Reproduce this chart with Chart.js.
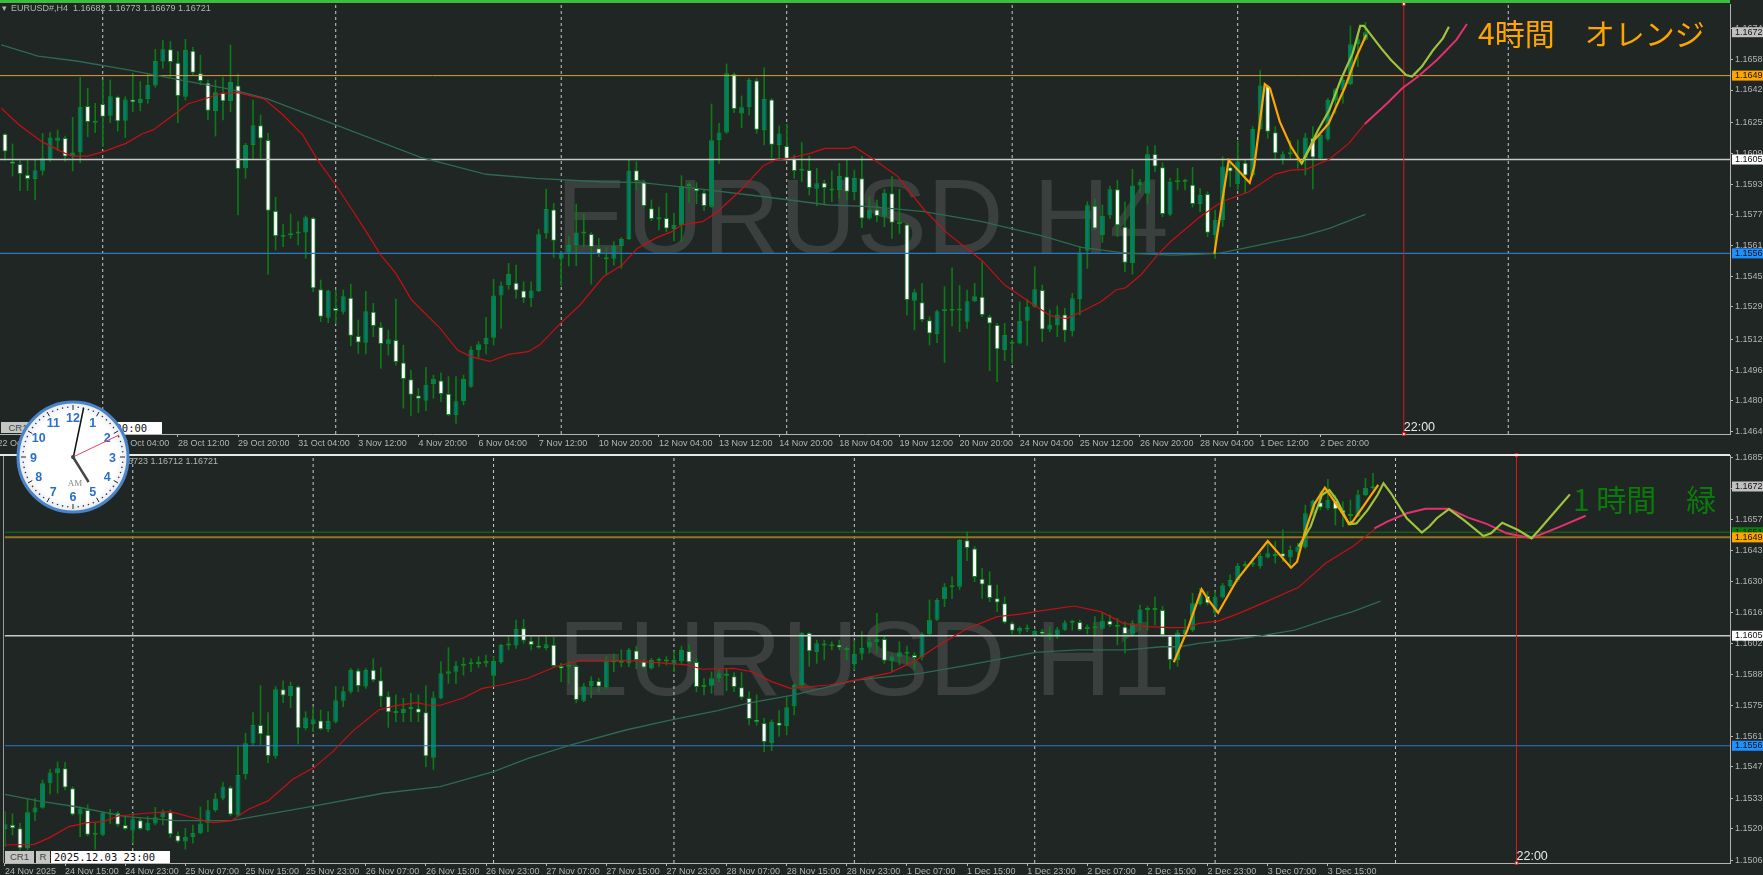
<!DOCTYPE html>
<html>
<head>
<meta charset="utf-8">
<script src="https://cdn.jsdelivr.net/npm/chart.js@4"></script>
<style>
html, body { margin:0; padding:0; background:#1f2624; overflow:hidden; }
#page { position:relative; width:1763px; height:875px; overflow:hidden; background:#1f2624; font-family:"Liberation Sans",sans-serif; }
canvas { position:absolute; left:0; }
#page div, #page svg { position:absolute; }
.head { color:#b4b4b4; font-size:9px; white-space:pre; }
.btn { background:#c4c6c4; color:#444; font-size:9.5px; text-align:center; line-height:11px; }
.box { background:#fff; color:#111; font:10.5px "DejaVu Sans Mono",monospace; line-height:12px; white-space:pre; }
.note { font-family:"Noto Sans CJK JP",sans-serif; font-size:30px; line-height:36px; white-space:pre; }
</style>
</head>
<body>
<div id="page">
  <canvas id="h4chart" width="1763" height="465" style="top:-10px"></canvas>
  <canvas id="h1chart" width="1763" height="430" style="top:445px"></canvas>
  <div style="left:0;top:0;width:1730px;height:3px;background:#3dbd3d"></div>
  <div style="left:0;top:454px;width:1730px;height:2px;background:#e8e8e8"></div>
  <div style="left:3px;top:456px;width:1px;height:407px;background:#9a9a9a"></div>
  <div class="head" style="left:2px;top:3px">▾</div>
  <div class="head" style="left:11px;top:3px">EURUSD#,H4  1.16682 1.16773 1.16679 1.16721</div>
  <div class="head" style="left:128px;top:456px">6723 1.16712 1.16721</div>
  <div class="btn" style="left:1px;top:422px;width:34px;height:11px">CR1</div>
  <div class="box" style="left:43px;top:422px;width:116px;height:12px;padding-left:3px">2025.12.03 20:00</div>
  <div class="btn" style="left:5px;top:851px;width:29px;height:12px">CR1</div>
  <div class="btn" style="left:36px;top:851px;width:14px;height:12px">R</div>
  <div class="box" style="left:51px;top:851px;width:116px;height:12px;padding-left:3px">2025.12.03 23:00</div>
  <div class="note" style="left:1478px;top:14px;color:#ffa500">4時間　オレンジ</div>
  <div class="note" style="left:1573px;top:480px;color:#0a7a0a">1 時間　緑</div>
  <svg id="clock" width="124" height="124" viewBox="-62 -62 124 124" style="left:11px;top:395px"></svg>
</div>
<script>
// ---- H4 panel ----
var h4Labels = ["22 Oct 12:00","23 Oct 20:00","27 Oct 04:00","28 Oct 12:00","29 Oct 20:00","31 Oct 04:00","3 Nov 12:00","4 Nov 20:00","6 Nov 04:00","7 Nov 12:00","10 Nov 20:00","12 Nov 04:00","13 Nov 12:00","14 Nov 20:00","18 Nov 04:00","19 Nov 12:00","20 Nov 20:00","24 Nov 04:00","25 Nov 12:00","26 Nov 20:00","28 Nov 04:00","1 Dec 12:00","2 Dec 20:00"];
var h4PriceTicks = [1.16740,1.16580,1.16420,1.16250,1.16090,1.15930,1.15770,1.15610,1.15450,1.15290,1.15120,1.14960,1.14800,1.14640];
var h4High = [1.16194,1.16139,1.16052,1.16052,1.16059,1.16194,1.16198,1.16212,1.16180,1.16278,
1.16486,1.16429,1.16351,1.16472,1.16472,1.16389,1.16385,1.16507,1.16464,1.16507,
1.16632,1.16677,1.16672,1.16620,1.16684,1.16642,1.16602,1.16472,1.16472,1.16486,
1.16655,1.16503,1.16142,1.16368,1.16290,1.16194,1.15861,1.15722,1.15774,1.15734,
1.15764,1.15757,1.15430,1.15378,1.15378,1.15378,1.15409,1.15222,1.15371,1.15309,
1.15208,1.15170,1.15331,1.15091,1.14961,1.14866,1.14975,1.14935,1.14947,1.14927,
1.14927,1.14935,1.15083,1.15109,1.15236,1.15434,1.15421,1.15517,1.15508,1.15421,
1.15421,1.15694,1.15904,1.15830,1.15578,1.15656,1.15826,1.15774,1.15677,1.15647,
1.15600,1.15630,1.15652,1.16055,1.16047,1.15951,1.15847,1.15812,1.15882,1.15778,
1.15974,1.15937,1.15937,1.15903,1.16347,1.16246,1.16556,1.16510,1.16389,1.16481,
1.16481,1.16536,1.16375,1.16233,1.16243,1.16081,1.16146,1.16076,1.16012,1.15951,
1.16000,1.16038,1.16055,1.16003,1.16076,1.15864,1.15847,1.15903,1.15969,1.15903,
1.15725,1.15382,1.15413,1.15239,1.15274,1.15395,1.15493,1.15402,1.15378,1.15413,
1.15526,1.15248,1.15204,1.15204,1.15118,1.15317,1.15329,1.15500,1.15404,1.15274,
1.15295,1.15283,1.15361,1.15604,1.15838,1.15850,1.15821,1.15920,1.15951,1.15838,
1.16007,1.15955,1.16128,1.16130,1.16041,1.15960,1.16012,1.15956,1.16017,1.15908,
1.15890,1.15795,1.16073,1.16047,1.16154,1.16055,1.16229,1.16521,1.16446,1.16229,
1.16099,1.16156,1.16160,1.16194,1.16229,1.16194,1.16377,1.16429,1.16481,1.16754,
1.16715,1.16773];
var h4Open = [1.16191,1.16048,1.16035,1.15979,1.15956,1.16000,1.16059,1.16156,1.16170,1.16073,
1.16094,1.16337,1.16257,1.16347,1.16286,1.16385,1.16260,1.16371,1.16352,1.16373,
1.16444,1.16568,1.16632,1.16562,1.16385,1.16625,1.16507,1.16458,1.16311,1.16406,
1.16363,1.16444,1.16012,1.16134,1.16236,1.16160,1.15790,1.15663,1.15670,1.15672,
1.15678,1.15753,1.15382,1.15234,1.15284,1.15265,1.15338,1.15138,1.15104,1.15265,
1.15185,1.15095,1.15118,1.15001,1.14913,1.14829,1.14801,1.14888,1.14907,1.14838,
1.14727,1.14800,1.14874,1.15065,1.15095,1.15130,1.15350,1.15404,1.15416,1.15375,
1.15335,1.15373,1.15673,1.15798,1.15541,1.15573,1.15612,1.15672,1.15670,1.15595,
1.15545,1.15541,1.15607,1.15644,1.16002,1.15941,1.15804,1.15746,1.15753,1.15696,
1.15717,1.15920,1.15910,1.15885,1.15812,1.16160,1.16198,1.16503,1.16297,1.16330,
1.16470,1.16212,1.16371,1.16134,1.16128,1.16061,1.16007,1.16003,1.15906,1.15937,
1.15904,1.15899,1.15969,1.15889,1.15960,1.15750,1.15798,1.15760,1.15882,1.15729,
1.15720,1.15322,1.15314,1.15220,1.15149,1.15267,1.15270,1.15272,1.15213,1.15319,
1.15343,1.15239,1.15196,1.15065,1.15098,1.15100,1.15218,1.15291,1.15378,1.15173,
1.15194,1.15250,1.15163,1.15331,1.15583,1.15817,1.15665,1.15767,1.15903,1.15708,
1.15517,1.15923,1.15880,1.16087,1.16017,1.15772,1.15939,1.15942,1.15927,1.15826,
1.15878,1.15665,1.15743,1.16017,1.15929,1.16041,1.15977,1.16217,1.16441,1.16200,
1.16055,1.16085,1.16055,1.16064,1.16170,1.16064,1.16163,1.16365,1.16420,1.16451,
1.16660,1.16682];
var h4Close = [1.16099,1.16036,1.15982,1.15956,1.16002,1.16064,1.16173,1.16173,1.16073,1.16094,
1.16333,1.16253,1.16250,1.16281,1.16387,1.16257,1.16371,1.16356,1.16373,1.16448,
1.16571,1.16632,1.16566,1.16389,1.16628,1.16510,1.16467,1.16312,1.16408,1.16361,
1.16462,1.16008,1.16134,1.16236,1.16167,1.15791,1.15659,1.15656,1.15663,1.15678,
1.15757,1.15387,1.15239,1.15375,1.15269,1.15345,1.15140,1.15105,1.15267,1.15191,
1.15097,1.15121,1.15003,1.14914,1.14833,1.14812,1.14885,1.14916,1.14836,1.14727,
1.14798,1.14914,1.15065,1.15095,1.15130,1.15350,1.15402,1.15461,1.15376,1.15335,
1.15376,1.15668,1.15800,1.15635,1.15574,1.15612,1.15678,1.15678,1.15602,1.15564,
1.15538,1.15607,1.15644,1.16000,1.15946,1.15816,1.15748,1.15757,1.15699,1.15717,
1.15920,1.15925,1.15892,1.15816,1.16158,1.16198,1.16507,1.16321,1.16330,1.16472,
1.16213,1.16373,1.16135,1.16194,1.16062,1.15998,1.16000,1.15910,1.15934,1.15910,
1.15897,1.15972,1.15890,1.15962,1.15751,1.15798,1.15764,1.15885,1.15729,1.15722,
1.15326,1.15366,1.15222,1.15151,1.15267,1.15274,1.15281,1.15279,1.15319,1.15345,
1.15248,1.15204,1.15069,1.15144,1.15102,1.15218,1.15291,1.15382,1.15173,1.15199,
1.15251,1.15166,1.15335,1.15573,1.15819,1.15698,1.15765,1.15903,1.15715,1.15520,
1.15923,1.15942,1.16085,1.16021,1.15774,1.15941,1.15946,1.15949,1.15826,1.15873,
1.15677,1.15743,1.16021,1.15995,1.16047,1.15974,1.16217,1.16443,1.16203,1.16090,
1.16085,1.16094,1.16064,1.16173,1.16068,1.16186,1.16368,1.16424,1.16472,1.16658,
1.16684,1.16721];
var h4Low = [1.16055,1.15972,1.15896,1.15896,1.15847,1.15977,1.16048,1.16104,1.16048,1.15998,
1.16041,1.16177,1.16198,1.16125,1.16250,1.16206,1.16172,1.16307,1.16311,1.16351,
1.16434,1.16533,1.16490,1.16250,1.16368,1.16498,1.16446,1.16264,1.16180,1.16264,
1.16307,1.15769,1.15960,1.16064,1.16064,1.15461,1.15586,1.15604,1.15647,1.15613,
1.15543,1.15369,1.15213,1.15208,1.15204,1.15253,1.15088,1.15048,1.15045,1.15135,
1.14970,1.15039,1.14987,1.14762,1.14722,1.14739,1.14749,1.14814,1.14796,1.14722,
1.14683,1.14779,1.14871,1.15027,1.15045,1.15091,1.15178,1.15382,1.15335,1.15312,
1.15291,1.15369,1.15647,1.15548,1.15399,1.15503,1.15505,1.15604,1.15409,1.15552,
1.15461,1.15508,1.15491,1.15639,1.15899,1.15809,1.15739,1.15691,1.15682,1.15635,
1.15630,1.15833,1.15826,1.15791,1.15809,1.16038,1.16194,1.16302,1.16224,1.16290,
1.16194,1.16134,1.16068,1.16059,1.16055,1.15960,1.15942,1.15873,1.15816,1.15821,
1.15838,1.15856,1.15847,1.15847,1.15703,1.15746,1.15734,1.15708,1.15647,1.15673,
1.15248,1.15170,1.15213,1.15091,1.15104,1.15000,1.15191,1.15161,1.15178,1.15317,
1.15239,1.14958,1.14900,1.15010,1.14996,1.15097,1.15090,1.15288,1.15109,1.15161,
1.15135,1.15109,1.15138,1.15248,1.15491,1.15691,1.15626,1.15751,1.15656,1.15474,
1.15461,1.15885,1.15826,1.15995,1.15760,1.15764,1.15899,1.15899,1.15809,1.15786,
1.15656,1.15543,1.15708,1.15916,1.15899,1.15882,1.15969,1.16212,1.16168,1.16061,
1.16033,1.16064,1.16012,1.15977,1.15904,1.16055,1.16156,1.16299,1.16351,1.16446,
1.16542,1.16679];
var h4RedX = [0.5,2.9,5.9,9,10,12,14.1,17.1,19.2,20.7,24,25.3,27.8,29.9,31.9,35.5,38,40.6,42.6,45,47.2,49.2,51,53,55.1,58.9,61.2,63,65.5,68,70.6,72.1,75,77.5,80.6,83.1,85.1,87.7,89.7,91,93.8,95.8,98.9,101.9,103.5,105,108.1,110.1,113.2,114,116.7,119.8,123.3,126.4,131,134,138.1,140.1,142.2,144.2,146.8,148.8,150.1,152.1,154.4,156.2,160,162.9,166.5,170,172.1,174.1,177.2,179.8,181.9];
var h4RedY = [1.16325,1.16238,1.16151,1.16090,1.16076,1.16076,1.16099,1.16142,1.16191,1.16212,1.16307,1.16347,1.16377,1.16403,1.16406,1.16373,1.16290,1.16186,1.16055,1.15925,1.15795,1.15673,1.15560,1.15465,1.15326,1.15178,1.15065,1.15031,1.15006,1.15043,1.15057,1.15091,1.15208,1.15300,1.15447,1.15508,1.15595,1.15651,1.15682,1.15717,1.15734,1.15786,1.15899,1.16026,1.16055,1.16062,1.16090,1.16116,1.16116,1.16125,1.16055,1.15969,1.15795,1.15673,1.15531,1.15404,1.15295,1.15244,1.15229,1.15265,1.15317,1.15378,1.15390,1.15456,1.15564,1.15635,1.15760,1.15838,1.15890,1.15982,1.16003,1.16007,1.16059,1.16142,1.16243];
var h4SlowX = [0.5,5.4,10.5,17.6,23.2,30.9,36,45,56.3,65,71.6,80.2,85.7,92.8,102,110.6,116.2,123.3,131,139.1,144.2,150.3,156.4,159.6,162.4,165.1,170,173.6,177.2,182];
var h4SlowY = [1.16655,1.16597,1.16571,1.16524,1.16481,1.16424,1.16373,1.16238,1.16069,1.15981,1.15960,1.15942,1.15937,1.15908,1.15864,1.15821,1.15812,1.15786,1.15734,1.15659,1.15600,1.15569,1.15560,1.15564,1.15569,1.15590,1.15630,1.15659,1.15699,1.15772];
var h4OrangeX = [161.9,162.9,163.8,166.6,167.2,168.6,169.3,170.6,172.1,173.5,175.2,177.1,179.3,180.8,182.1];
var h4OrangeY = [1.15566,1.15830,1.16055,1.15937,1.16021,1.16451,1.16429,1.16255,1.16125,1.16038,1.16160,1.16246,1.16437,1.16594,1.16707];
var h4LimeX = [173.5,175.7,177.2,178.7,180.3,181.3,181.8,184.1,185.4,187.4,188.2,189.5,191,192.3,193.1];
var h4LimeY = [1.16035,1.16212,1.16316,1.16472,1.16611,1.16754,1.16754,1.16637,1.16576,1.16498,1.16490,1.16542,1.16628,1.16689,1.16750];
var h4PinkX = [181.9,184.9,186.9,189,191.5,194.1,195.5];
var h4PinkY = [1.16243,1.16351,1.16429,1.16490,1.16576,1.16681,1.16764];
var h4Separators = [14,45,75,105,135,165,201];
var h4Levels = [1.16495,1.16058,1.15569];

// ---- H1 panel ----
var h1Labels = ["24 Nov 2025","24 Nov 15:00","24 Nov 23:00","25 Nov 07:00","25 Nov 15:00","25 Nov 23:00","26 Nov 07:00","26 Nov 15:00","26 Nov 23:00","27 Nov 07:00","27 Nov 15:00","27 Nov 23:00","28 Nov 07:00","28 Nov 15:00","28 Nov 23:00","1 Dec 07:00","1 Dec 15:00","1 Dec 23:00","2 Dec 07:00","2 Dec 15:00","2 Dec 23:00","3 Dec 07:00","3 Dec 15:00"];
var h1PriceTicks = [1.16850,1.16710,1.16575,1.16435,1.16300,1.16160,1.16025,1.15885,1.15750,1.15610,1.15475,1.15335,1.15200,1.15060];
var h1High = [1.15276,1.15266,1.15224,1.15335,1.15335,1.15417,1.15464,1.15498,1.15495,1.15387,
1.15298,1.15306,1.15227,1.15276,1.15287,1.15276,1.15254,1.15269,1.15247,1.15254,
1.15295,1.15284,1.15284,1.15187,1.15202,1.15217,1.15298,1.15328,1.15358,1.15405,
1.15390,1.15565,1.15624,1.15716,1.15836,1.15716,1.15832,1.15858,1.15852,1.15835,
1.15721,1.15743,1.15728,1.15721,1.15832,1.15832,1.15913,1.15912,1.15912,1.15956,
1.15916,1.15809,1.15795,1.15780,1.15802,1.15795,1.15835,1.15809,1.15943,1.16005,
1.15943,1.15960,1.15956,1.15965,1.15972,1.15965,1.16021,1.16054,1.16128,1.16131,
1.16054,1.16054,1.16054,1.16051,1.15935,1.15943,1.15928,1.15846,1.15876,1.15869,
1.15965,1.15977,1.15995,1.16002,1.16012,1.15953,1.15958,1.15960,1.15965,1.15987,
1.16012,1.16017,1.15958,1.15869,1.15898,1.15906,1.15909,1.15894,1.15894,1.15809,
1.15795,1.15691,1.15684,1.15725,1.15783,1.15846,1.16072,1.16072,1.16039,1.16039,
1.16032,1.16039,1.16009,1.16036,1.16076,1.16054,1.16157,1.16057,1.15977,1.16032,
1.16012,1.15983,1.16072,1.16217,1.16224,1.16291,1.16320,1.16486,1.16520,1.16454,
1.16357,1.16343,1.16283,1.16231,1.16120,1.16098,1.16106,1.16083,1.16086,1.16098,
1.16095,1.16125,1.16128,1.16128,1.16106,1.16143,1.16160,1.16150,1.16135,1.16120,
1.16125,1.16194,1.16187,1.16231,1.16187,1.16061,1.16083,1.16131,1.16246,1.16269,
1.16254,1.16254,1.16291,1.16328,1.16380,1.16387,1.16402,1.16424,1.16468,1.16476,
1.16528,1.16457,1.16468,1.16639,1.16661,1.16698,1.16753,1.16683,1.16654,1.16661,
1.16705,1.16757,1.16779];
var h1Open = [1.15199,1.15218,1.15202,1.15113,1.15272,1.15294,1.15402,1.15447,1.15469,1.15380,
1.15264,1.15284,1.15177,1.15173,1.15264,1.15270,1.15217,1.15192,1.15238,1.15195,
1.15224,1.15251,1.15273,1.15171,1.15143,1.15164,1.15180,1.15227,1.15284,1.15335,
1.15384,1.15259,1.15444,1.15580,1.15661,1.15618,1.15522,1.15820,1.15790,1.15832,
1.15648,1.15666,1.15681,1.15644,1.15676,1.15769,1.15809,1.15903,1.15832,1.15907,
1.15860,1.15789,1.15715,1.15715,1.15732,1.15734,1.15718,1.15516,1.15780,1.15889,
1.15898,1.15925,1.15931,1.15932,1.15935,1.15880,1.15941,1.16015,1.16014,1.16091,
1.16036,1.16015,1.16003,1.16018,1.15923,1.15920,1.15923,1.15769,1.15835,1.15857,
1.15830,1.15940,1.15946,1.15935,1.15992,1.15943,1.15912,1.15947,1.15943,1.15932,
1.15944,1.15990,1.15941,1.15830,1.15836,1.15869,1.15880,1.15878,1.15829,1.15781,
1.15685,1.15670,1.15580,1.15672,1.15657,1.15744,1.15839,1.16070,1.15986,1.16023,
1.16011,1.16018,1.16002,1.15932,1.15978,1.16006,1.16029,1.16043,1.15944,1.15965,
1.15983,1.15972,1.15962,1.16066,1.16129,1.16220,1.16273,1.16276,1.16482,1.16445,
1.16311,1.16286,1.16224,1.16202,1.16113,1.16077,1.16086,1.16061,1.16077,1.16060,
1.16054,1.16085,1.16116,1.16119,1.16088,1.16091,1.16089,1.16125,1.16103,1.16098,
1.16063,1.16113,1.16172,1.16172,1.16172,1.16058,1.15950,1.16066,1.16083,1.16199,
1.16234,1.16160,1.16229,1.16279,1.16306,1.16365,1.16374,1.16368,1.16406,1.16412,
1.16424,1.16406,1.16431,1.16451,1.16602,1.16651,1.16624,1.16658,1.16617,1.16590,
1.16590,1.16683,1.16713];
var h1Close = [1.15220,1.15202,1.15113,1.15273,1.15295,1.15402,1.15450,1.15469,1.15383,1.15264,
1.15290,1.15173,1.15173,1.15272,1.15269,1.15218,1.15199,1.15242,1.15199,1.15227,
1.15251,1.15276,1.15176,1.15144,1.15165,1.15181,1.15223,1.15282,1.15335,1.15387,
1.15264,1.15439,1.15580,1.15661,1.15620,1.15524,1.15820,1.15792,1.15835,1.15647,
1.15695,1.15687,1.15642,1.15679,1.15771,1.15811,1.15906,1.15835,1.15906,1.15860,
1.15787,1.15718,1.15719,1.15732,1.15737,1.15716,1.15522,1.15783,1.15891,1.15900,
1.15925,1.15931,1.15935,1.15938,1.15947,1.15946,1.16017,1.16020,1.16088,1.16036,
1.16017,1.16005,1.16020,1.15923,1.15912,1.15928,1.15772,1.15833,1.15858,1.15832,
1.15943,1.15944,1.15938,1.15995,1.15950,1.15917,1.15950,1.15953,1.15949,1.15950,
1.15995,1.15940,1.15830,1.15838,1.15869,1.15891,1.15886,1.15830,1.15783,1.15688,
1.15675,1.15586,1.15675,1.15658,1.15740,1.15839,1.16070,1.15989,1.16024,1.16014,
1.16020,1.16006,1.15995,1.15977,1.16003,1.16030,1.16045,1.15947,1.15966,1.15984,
1.15978,1.15959,1.16066,1.16129,1.16217,1.16276,1.16277,1.16483,1.16448,1.16319,
1.16285,1.16226,1.16206,1.16117,1.16080,1.16092,1.16092,1.16079,1.16066,1.16066,
1.16086,1.16117,1.16122,1.16083,1.16098,1.16095,1.16125,1.16106,1.16098,1.16066,
1.16113,1.16175,1.16177,1.16175,1.16060,1.15950,1.16072,1.16083,1.16202,1.16246,
1.16202,1.16231,1.16282,1.16306,1.16368,1.16377,1.16380,1.16412,1.16424,1.16417,
1.16409,1.16439,1.16454,1.16602,1.16657,1.16628,1.16661,1.16620,1.16602,1.16593,
1.16686,1.16716,1.16721];
var h1Low = [1.15121,1.15173,1.15106,1.15106,1.15236,1.15291,1.15355,1.15358,1.15373,1.15261,
1.15165,1.15168,1.15109,1.15168,1.15224,1.15210,1.15195,1.15136,1.15195,1.15190,
1.15217,1.15217,1.15162,1.15139,1.15109,1.15136,1.15177,1.15187,1.15276,1.15328,
1.15257,1.15254,1.15420,1.15572,1.15572,1.15494,1.15513,1.15760,1.15738,1.15577,
1.15639,1.15632,1.15639,1.15632,1.15669,1.15743,1.15802,1.15809,1.15824,1.15854,
1.15743,1.15651,1.15676,1.15676,1.15676,1.15676,1.15476,1.15464,1.15777,1.15846,
1.15846,1.15883,1.15898,1.15917,1.15920,1.15835,1.15935,1.15995,1.16002,1.16024,
1.15995,1.16002,1.15995,1.15917,1.15854,1.15846,1.15760,1.15765,1.15783,1.15809,
1.15824,1.15898,1.15920,1.15920,1.15910,1.15909,1.15909,1.15923,1.15928,1.15898,
1.15935,1.15935,1.15809,1.15795,1.15802,1.15854,1.15814,1.15809,1.15775,1.15661,
1.15661,1.15543,1.15547,1.15610,1.15617,1.15706,1.15832,1.15923,1.15935,1.15950,
1.15995,1.15995,1.15950,1.15906,1.15950,1.15980,1.15980,1.15935,1.15898,1.15928,
1.15928,1.15906,1.15950,1.16061,1.16125,1.16187,1.16224,1.16264,1.16391,1.16298,
1.16224,1.16209,1.16165,1.16113,1.16066,1.16066,1.16076,1.16057,1.16054,1.16039,
1.16046,1.16080,1.16083,1.16080,1.16066,1.16054,1.16086,1.16098,1.16017,1.15980,
1.16054,1.16083,1.16083,1.16106,1.16054,1.15909,1.15923,1.16054,1.16076,1.16194,
1.16194,1.16150,1.16224,1.16273,1.16298,1.16357,1.16365,1.16357,1.16402,1.16380,
1.16387,1.16362,1.16409,1.16446,1.16594,1.16617,1.16617,1.16550,1.16543,1.16550,
1.16587,1.16679,1.16708];
var h1RedX = [0,3.9,6,8.5,11,13.1,15.1,18.7,22,25.3,27.6,30.1,32.4,35,38.3,41.1,43.6,46.2,49.7,51.8,54.8,56.4,57.9,60.9,63.5,66,69.6,73.2,76.7,83.1,86.7,90.8,92.8,96.9,99.4,102,104.5,109.6,113.2,117.8,121.3,123.9,127.9,132,135.1,137.1,142.2,145.8,148.8,151.9,155.2,157.5,158.8,161.4,163.9,167.5,172.1,175.7,179.3,182.4];
var h1RedY = [1.15128,1.15131,1.15162,1.15210,1.15227,1.15232,1.15257,1.15269,1.15276,1.15247,1.15227,1.15235,1.15287,1.15324,1.15420,1.15472,1.15543,1.15632,1.15728,1.15746,1.15761,1.15749,1.15749,1.15780,1.15824,1.15839,1.15869,1.15920,1.15950,1.15947,1.15938,1.15928,1.15909,1.15913,1.15898,1.15854,1.15824,1.15839,1.15861,1.15894,1.15950,1.16009,1.16088,1.16143,1.16154,1.16165,1.16190,1.16165,1.16113,1.16098,1.16094,1.16095,1.16113,1.16123,1.16154,1.16205,1.16273,1.16380,1.16454,1.16535];
var h1SlowX = [0,4.4,9.5,16.1,22.8,30.1,40.1,50.3,57.9,65,69.6,75.2,82.6,88.2,94.8,98.9,105,113.2,121.8,127.4,137.1,142.7,149.3,153.9,156.3,158.8,162.9,167,171.6,175.7,179.3,183];
var h1SlowY = [1.15353,1.15324,1.15298,1.15254,1.15236,1.15236,1.15295,1.15358,1.15387,1.15454,1.15513,1.15572,1.15639,1.15681,1.15725,1.15758,1.15795,1.15861,1.15891,1.15923,1.15984,1.15995,1.15995,1.16009,1.16009,1.16024,1.16039,1.16057,1.16083,1.16128,1.16165,1.16212];
var h1OrangeX = [155.5,157.3,159.2,160.1,161.4,163.9,168,171.1,171.9,172.9,174.2,175.6,177.2,178.8,179.3,182.7];
var h1OrangeY = [1.15940,1.16083,1.16264,1.16217,1.16160,1.16306,1.16479,1.16360,1.16387,1.16513,1.16643,1.16716,1.16639,1.16557,1.16565,1.16728];
var h1LimeX = [172.1,173.7,175.2,176.2,177.2,178.8,179.8,181.3,182.6,183.4,184.4,186.5,188.5,189.5,190.5,192.1,194.1,196.7,197.7,199.2,201.3,203.1,204.1,206.4,208.2];
var h1LimeY = [1.16454,1.16543,1.16683,1.16705,1.16661,1.16553,1.16557,1.16617,1.16683,1.16735,1.16691,1.16580,1.16516,1.16543,1.16580,1.16621,1.16572,1.16501,1.16513,1.16560,1.16528,1.16491,1.16528,1.16617,1.16686];
var h1PinkX = [182.2,183.9,186.5,189,192.1,194.6,197.2,199.8,203.1,206.9,210.3];
var h1PinkY = [1.16535,1.16565,1.16602,1.16622,1.16622,1.16584,1.16554,1.16513,1.16491,1.16543,1.16591];
var h1Separators = [17,41,65,89,113,137,161,185];
var h1Levels = [1.16518,1.16495,1.16058,1.15569];

var WHITE_LINE = '#c9cbc9', ORANGE = '#ffa500', LIME = '#9ec43c', PINK = '#e4306c';

// zip two small lists into points for a line dataset
function toPoints(xs, ys) {
  return xs.map(function (x, i) { return { x: x, y: ys[i] }; });
}

function lineSet(points, color, width, order, dash) {
  return { type: 'line', data: points, borderColor: color, borderWidth: width, borderDash: dash || [], pointRadius: 0, tension: 0, order: order };
}

// wicks and bodies are floating bars, bull = teal, bear = white
function candleSets(first, open, high, low, close) {
  var wicks = open.map(function (o, i) { return { x: first + i, y: [low[i], high[i]] }; });
  var bodies = open.map(function (o, i) { return { x: first + i, y: [o, close[i]] }; });
  return [
    { type: 'bar', data: wicks, barThickness: 1, backgroundColor: '#0b7a17', borderWidth: 0, grouped: false, order: 31 },
    { type: 'bar', data: bodies, barThickness: 5, minBarLength: 2, grouped: false, order: 30, borderWidth: 1, borderSkipped: false, inflateAmount: 0, borderColor: '#0b8a22',
      backgroundColor: open.map(function (o, i) { return close[i] >= o ? '#00806a' : '#ffffff'; }) }
  ];
}

// watermark, crosshair time and the price tags on the axis
var panelText = {
  id: 'panelText',
  beforeDatasetsDraw: function (chart, args, o) {
    var c = chart.ctx;
    c.save();
    c.fillStyle = '#3b403f';
    c.font = '106px "Liberation Sans"';
    c.textBaseline = 'alphabetic';
    c.fillText(o.mark, o.markX, o.markY);
    c.restore();
  },
  afterDraw: function (chart, args, o) {
    var c = chart.ctx, y = chart.scales.y, x = chart.scales.x;
    c.save();
    c.font = '12.5px "Liberation Sans"';
    c.fillStyle = '#e8e8e8';
    c.textBaseline = 'alphabetic';
    c.fillText('22:00', x.getPixelForValue(o.timeLine), chart.chartArea.bottom - 3);
    c.font = '9px "Liberation Sans"';
    c.textBaseline = 'middle';
    o.tags.forEach(function (t) {
      var py = y.getPixelForValue(t.value);
      c.fillStyle = t.color;
      c.fillRect(chart.chartArea.right + 2, py - 5, 40, 10);
      c.fillStyle = '#111';
      c.fillText(t.value.toFixed(5), chart.chartArea.right + 5, py);
    });
    c.restore();
  }
};

function makePanel(id, cfg) {
  var sets = candleSets(cfg.first, cfg.open, cfg.high, cfg.low, cfg.close);
  cfg.separators.forEach(function (s) {
    sets.push(lineSet([{ x: s, y: cfg.min }, { x: s, y: cfg.max }], WHITE_LINE, 1, 40, [3, 3]));
  });
  cfg.levels.forEach(function (l) {
    sets.push(lineSet([{ x: cfg.xMin, y: l.value }, { x: cfg.xMax, y: l.value }], l.color, l.width, 20));
  });
  sets.push(lineSet(toPoints(cfg.slowX, cfg.slowY), '#2e6a50', 1.3, 10));
  sets.push(lineSet(toPoints(cfg.redX, cfg.redY), '#c80f14', 1.2, 9));
  var cross = lineSet([{ x: cfg.timeLine, y: cfg.min }, { x: cfg.timeLine, y: cfg.max }], '#e01818', 1, 5);
  cross.pointRadius = 2;
  cross.pointStyle = 'rect';
  cross.pointBackgroundColor = '#fff';
  cross.pointBorderColor = '#e01818';
  cross.pointBorderWidth = 1;
  cross.clip = false;
  sets.push(cross);
  sets.push(lineSet(toPoints(cfg.pinkX, cfg.pinkY), PINK, 2, 4));
  sets.push(lineSet(toPoints(cfg.orangeX, cfg.orangeY), ORANGE, 2.2, 2));
  sets.push(lineSet(toPoints(cfg.limeX, cfg.limeY), LIME, 2.2, cfg.limeOrder));

  return new Chart(document.getElementById(id), {
    data: { datasets: sets },
    plugins: [panelText],
    options: {
      responsive: false,
      animation: false,
      devicePixelRatio: 1,
      layout: { autoPadding: false, padding: cfg.padding },
      plugins: {
        legend: { display: false },
        tooltip: { enabled: false },
        panelText: { mark: cfg.mark, markX: cfg.markX, markY: cfg.markY, timeLine: cfg.timeLine, tags: cfg.tags }
      },
      scales: {
        x: {
          type: 'linear', min: cfg.xMin, max: cfg.xMax, offset: false,
          border: { color: '#b4b4b4' },
          grid: { offset: false, drawOnChartArea: false, tickLength: 3, color: '#b4b4b4' },
          afterBuildTicks: function (axis) {
            axis.ticks = cfg.labels.map(function (t, i) { return { value: i * 8 }; });
          },
          afterFit: function (axis) {
            // keep the first and last label from pushing the plot inwards
            axis.height = cfg.axisHeight;
            axis.paddingLeft = 0;
            axis.paddingRight = 0;
          },
          ticks: {
            autoSkip: false, maxRotation: 0, align: 'start', padding: cfg.labelPad, color: '#b4b4b4',
            font: { family: 'Liberation Sans', size: 9 },
            callback: function (v) { return cfg.labels[v / 8]; }
          }
        },
        y: {
          position: 'right', min: cfg.min, max: cfg.max,
          border: { color: '#b4b4b4' },
          grid: { drawOnChartArea: false, tickLength: 3, color: '#b4b4b4' },
          afterBuildTicks: function (axis) {
            axis.ticks = cfg.priceTicks.map(function (v) { return { value: v }; });
          },
          afterFit: function (axis) { axis.width = 33; },
          ticks: {
            autoSkip: false, padding: 2, color: '#b4b4b4',
            font: { family: 'Liberation Sans', size: 9 },
            callback: function (v) { return v.toFixed(5); }
          }
        }
      }
    }
  });
}

makePanel('h4chart', {
  first: 1, open: h4Open, high: h4High, low: h4Low, close: h4Close,
  labels: h4Labels, priceTicks: h4PriceTicks,
  redX: h4RedX, redY: h4RedY, slowX: h4SlowX, slowY: h4SlowY,
  orangeX: h4OrangeX, orangeY: h4OrangeY, limeX: h4LimeX, limeY: h4LimeY, pinkX: h4PinkX, pinkY: h4PinkY,
  separators: h4Separators,
  levels: [{ value: h4Levels[0], color: '#d9a02e', width: 1 }, { value: h4Levels[1], color: '#c8cac8', width: 1.6 }, { value: h4Levels[2], color: '#2a78c4', width: 1.2 }],
  tags: [{ value: h4Close[h4Close.length - 1], color: '#c0c0c0' }, { value: h4Levels[0], color: '#ffa500' }, { value: h4Levels[1], color: '#ffffff' }, { value: h4Levels[2], color: '#1e90ff' }],
  min: 1.14628, max: 1.16868, xMin: 0.333, xMax: 230.5, timeLine: 187.1,
  padding: { top: 14 }, axisHeight: 21, labelPad: 1, limeOrder: 1,
  mark: 'EURUSD H4', markX: 556, markY: 263
});

makePanel('h1chart', {
  first: 0, open: h1Open, high: h1High, low: h1Low, close: h1Close,
  labels: h1Labels, priceTicks: h1PriceTicks,
  redX: h1RedX, redY: h1RedY, slowX: h1SlowX, slowY: h1SlowY,
  orangeX: h1OrangeX, orangeY: h1OrangeY, limeX: h1LimeX, limeY: h1LimeY, pinkX: h1PinkX, pinkY: h1PinkY,
  separators: h1Separators,
  levels: [{ value: h1Levels[0], color: '#107810', width: 1 }, { value: h1Levels[1], color: '#94741e', width: 2 }, { value: h1Levels[2], color: '#c8cac8', width: 1.6 }, { value: h1Levels[3], color: '#2a78c4', width: 1.2 }],
  tags: [{ value: h1Close[h1Close.length - 1], color: '#c0c0c0' }, { value: h1Levels[0], color: '#0a7f0a' }, { value: h1Levels[1], color: '#ffa500' }, { value: h1Levels[2], color: '#ffffff' }, { value: h1Levels[3], color: '#1e90ff' }],
  min: 1.15048, max: 1.16861, xMin: -0.05, xMax: 229.5, timeLine: 201.1,
  padding: { top: 10, left: 4.6 }, axisHeight: 12, labelPad: 0, limeOrder: 3,
  mark: 'EURUSD H1', markX: 558, markY: 250
});

// desktop clock widget sitting over both panels
function drawClock() {
  var s = '<defs><radialGradient id="face"><stop offset="0.8" stop-color="#ffffff"/><stop offset="1" stop-color="#e4e8ee"/></radialGradient></defs>';
  s += '<circle r="55" fill="url(#face)" stroke="#4a84c8" stroke-width="3"/>';
  for (var i = 0; i < 60; i++) {
    var a = i * Math.PI / 30, five = i % 5 === 0;
    if (five) {
      s += '<line x1="' + 47 * Math.sin(a) + '" y1="' + -47 * Math.cos(a) + '" x2="' + 52 * Math.sin(a) + '" y2="' + -52 * Math.cos(a) + '" stroke="#223" stroke-width="1"/>';
    } else {
      s += '<circle cx="' + 50 * Math.sin(a) + '" cy="' + -50 * Math.cos(a) + '" r="0.8" fill="#335"/>';
    }
  }
  for (var h = 1; h <= 12; h++) {
    var b = h * Math.PI / 6;
    s += '<text x="' + 39.5 * Math.sin(b) + '" y="' + (-39.5 * Math.cos(b) + 4.5) + '" text-anchor="middle" font-family="Liberation Sans" font-weight="bold" font-size="12.5" fill="#2a6fd0">' + h + '</text>';
  }
  s += '<text x="2" y="29" text-anchor="middle" font-family="Liberation Serif" font-size="9" fill="#888">AM</text>';
  s += '<line x1="0" y1="0" x2="15.6" y2="25" stroke="#444" stroke-width="2.4"/>';
  s += '<line x1="0" y1="2" x2="10.6" y2="-49" stroke="#111" stroke-width="1.5"/>';
  s += '<line x1="0" y1="0" x2="46" y2="-22" stroke="#f0405a" stroke-width="1"/>';
  s += '<circle r="2" fill="#444"/>';
  var svg = document.getElementById('clock');
  svg.innerHTML = s;
}
drawClock();
</script>
</body>
</html>
